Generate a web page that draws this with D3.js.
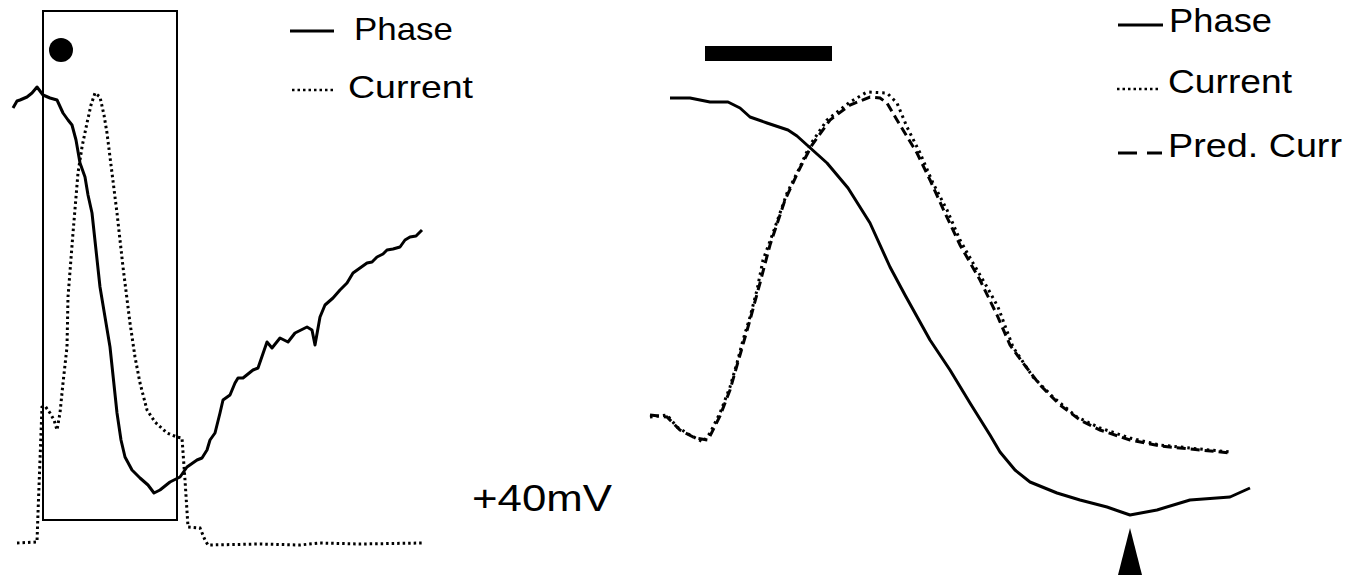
<!DOCTYPE html>
<html>
<head>
<meta charset="utf-8">
<script src="https://d3js.org/d3.v7.min.js"></script>
<style>
  body { margin: 0; background: #fff; }
  svg { display: block; }
  text { font-family: "Liberation Sans", Arial, sans-serif; fill: #000; }
</style>
</head>
<body>
<div id="chart"></div>
<script>
// left panel: [time (samples), amplitude (a.u.)]
const leftPhase = [
  [0,437],[4,444],[7,445],[14,448],[19,452],[24,458],[30,450],[37,447],[44,445],[50,432],
  [55,425],[59,420],[63,405],[67,382],[72,368],[75,350],[79,332],[83,295],[87,258],[97,198],
  [104,132],[108,105],[112,88],[119,75],[127,67],[135,60],[141,52],[147,55],[157,63],[167,68],
  [174,78],[184,85],[189,87],[194,95],[197,105],[202,112],[207,132],[210,145],[217,150],[222,162],
  [225,167],[230,167],[240,175],[245,177],[254,203],[259,197],[267,207],[275,203],[282,212],[294,218],
  [299,215],[302,200],[307,228],[312,240],[320,247],[327,255],[334,262],[340,272],[347,277],[354,282],
  [359,283],[364,288],[370,291],[374,295],[380,296],[387,298],[392,305],[397,308],[403,309],[409,315]
];
const leftCurrent = [
  [4,2],[24,3],[25,32],[27,85],[29,138],[32,139],[37,132],[41,125],[44,115],[47,132],
  [50,162],[54,198],[55,248],[60,312],[65,372],[69,398],[74,422],[78,440],[82,452],[87,448],
  [91,430],[94,412],[99,372],[104,332],[110,278],[112,262],[117,222],[122,188],[127,162],[134,135],
  [142,123],[154,112],[164,108],[169,107],[172,65],[175,18],[187,17],[192,5],[195,0],[247,1],
  [287,0],[307,2],[347,1],[410,2]
];
const leftWindow = [30, 164];   // boxed time window
const leftMarker = 48;          // filled dot

// right panel
const rightPhase = [
  [20,430],[40,430],[60,426],[78,426],[90,420],[100,411],[117,405],[138,398],[147,392],[157,383],
  [177,365],[198,340],[220,305],[240,261],[255,233],[280,188],[300,158],[320,125],[340,93],[350,76],
  [365,58],[380,46],[407,35],[430,28],[457,21],[480,13],[507,18],[540,28],[580,31],[600,40]
];
const rightCurrent = [
  [0,111],[17,113],[27,101],[40,93],[53,86],[60,95],[70,115],[80,141],[87,165],[93,188],
  [100,211],[107,238],[113,268],[123,295],[137,335],[150,361],[160,383],[177,408],[200,426],[217,436],
  [237,435],[247,425],[257,401],[270,375],[283,345],[297,318],[310,288],[323,265],[337,241],[348,221],
  [363,181],[383,151],[403,131],[427,111],[450,100],[480,90],[510,83],[540,80],[580,76]
];
const rightPredCurr = [
  [0,113],[17,111],[30,98],[45,90],[58,88],[70,112],[80,138],[90,173],[100,208],[110,245],
  [120,283],[135,328],[150,360],[162,383],[180,408],[200,423],[220,431],[230,430],[237,425],[247,408],
  [267,375],[280,348],[295,315],[310,283],[330,248],[347,213],[360,183],[373,165],[390,143],[410,123],
  [430,108],[450,98],[480,88],[510,82],[540,79],[580,75]
];
const rightStim = [55, 182];    // black bar
const rightArrow = 480;         // arrowhead at phase minimum

const W = 1349, H = 575;
const svg = d3.select("#chart").append("svg").attr("width", W).attr("height", H);

const xL = d3.scaleLinear().domain([0, 410]).range([13, 423]);
const yL = d3.scaleLinear().domain([0, 460]).range([545, 85]);
const xR = d3.scaleLinear().domain([0, 600]).range([650, 1250]);
const yR = d3.scaleLinear().domain([0, 440]).range([528, 88]);

const lineL = d3.line().x(d => xL(d[0])).y(d => yL(d[1]));
const lineR = d3.line().x(d => xR(d[0])).y(d => yR(d[1]));

// left panel
const left = svg.append("g");
left.append("rect")
  .attr("x", xL(leftWindow[0])).attr("y", 11)
  .attr("width", xL(leftWindow[1]) - xL(leftWindow[0])).attr("height", 509)
  .attr("fill", "none").attr("stroke", "#000").attr("stroke-width", 2);
left.append("circle")
  .attr("cx", xL(leftMarker)).attr("cy", 50).attr("r", 12).attr("fill", "#000");
left.append("path").datum(leftCurrent).attr("d", lineL)
  .attr("fill", "none").attr("stroke", "#000").attr("stroke-width", 3)
  .attr("stroke-dasharray", "2.5,3");
left.append("path").datum(leftPhase).attr("d", lineL)
  .attr("fill", "none").attr("stroke", "#000").attr("stroke-width", 3)
  .attr("stroke-linejoin", "round");

// right panel
const right = svg.append("g");
right.append("rect")
  .attr("x", xR(rightStim[0])).attr("y", 46)
  .attr("width", xR(rightStim[1]) - xR(rightStim[0])).attr("height", 15)
  .attr("fill", "#000");
right.append("path").datum(rightPredCurr).attr("d", lineR)
  .attr("fill", "none").attr("stroke", "#000").attr("stroke-width", 3)
  .attr("stroke-dasharray", "9,5");
right.append("path").datum(rightCurrent).attr("d", lineR)
  .attr("fill", "none").attr("stroke", "#000").attr("stroke-width", 3)
  .attr("stroke-dasharray", "2.5,4");
right.append("path").datum(rightPhase).attr("d", lineR)
  .attr("fill", "none").attr("stroke", "#000").attr("stroke-width", 3)
  .attr("stroke-linejoin", "round");
const ax = xR(rightArrow);
right.append("path")
  .attr("d", `M${ax},528L${ax + 12},575L${ax - 12},575Z`)
  .attr("fill", "#000");

// legends
const legL = [
  { label: "Phase", y: 40, ly: 31, dash: null, len: 99, size: 32, x1: 290, x2: 334, tx: 354 },
  { label: "Current", y: 98, ly: 90, dash: "2.5,3", len: 125, size: 32, x1: 292, x2: 334, tx: 348 }
];
const legR = [
  { label: "Phase", y: 32, ly: 25, dash: null, len: 103, size: 33, x1: 1118, x2: 1163, tx: 1169 },
  { label: "Current", y: 93, ly: 89, dash: "2.5,3", len: 124, size: 33, x1: 1117, x2: 1160, tx: 1168 },
  { label: "Pred. Curr", y: 157, ly: 153, dash: "19,10", len: 174, size: 33, x1: 1118, x2: 1162, tx: 1168 }
];
[...legL, ...legR].forEach(d => {
  svg.append("line")
    .attr("x1", d.x1).attr("x2", d.x2).attr("y1", d.ly).attr("y2", d.ly)
    .attr("stroke", "#000").attr("stroke-width", d.dash === "2.5,3" ? 2.5 : 3)
    .attr("stroke-dasharray", d.dash);
  svg.append("text")
    .attr("x", d.tx).attr("y", d.y)
    .attr("font-size", d.size)
    .attr("textLength", d.len).attr("lengthAdjust", "spacingAndGlyphs")
    .text(d.label);
});

svg.append("text")
  .attr("x", 472).attr("y", 511)
  .attr("font-size", 36)
  .attr("textLength", 140).attr("lengthAdjust", "spacingAndGlyphs")
  .text("+40mV");
</script>
</body>
</html>
